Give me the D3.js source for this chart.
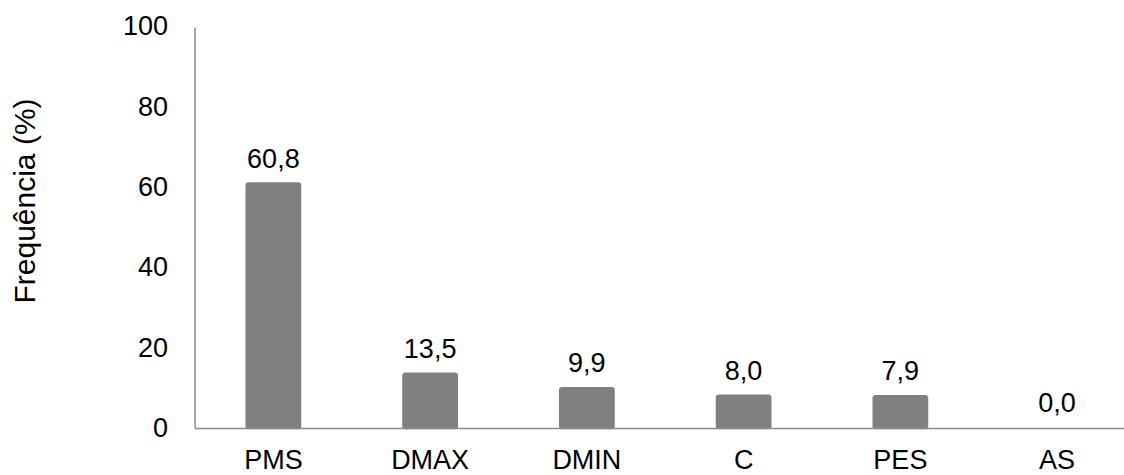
<!DOCTYPE html>
<html>
<head>
<meta charset="utf-8">
<script src="https://cdn.jsdelivr.net/npm/d3@7"></script>
<style>
  html, body { margin: 0; padding: 0; background: #fff; }
  svg { display: block; }
  text { font-family: "Liberation Sans", Arial, sans-serif; fill: #000; }
</style>
</head>
<body>
<svg id="chart" width="1124" height="475"></svg>
<script>
// Frequency of each category (%)
const categories = ["PMS", "DMAX", "DMIN", "C", "PES", "AS"];
const values = [60.8, 13.5, 9.9, 8.0, 7.9, 0.0];
const yTicks = [0, 20, 40, 60, 80, 100];
const yTitle = "Frequência (%)";

const svg = d3.select("#chart");
const plotLeft = 195, plotRight = 1135.5, plotTop = 26, plotBottom = 428;
const fontSize = 27;
const axisColor = "#8a8a8a";
const barColor = "#808080";

const x = d3.scaleBand()
  .domain(categories)
  .range([plotLeft, plotRight])
  .paddingInner(0.66)
  .paddingOuter(0.33);

const y = d3.scaleLinear().domain([0, 100]).range([plotBottom, plotTop]);

const fmt = v => d3.format(".1f")(v).replace(".", ",");

// Bars
svg.append("g")
  .selectAll("rect")
  .data(values)
  .join("rect")
  .attr("x", (d, i) => x(categories[i]))
  .attr("y", d => y(d))
  .attr("width", x.bandwidth())
  .attr("height", d => y(0) - y(d))
  .attr("rx", 2)
  .attr("fill", barColor)
  .attr("stroke", barColor)
  .attr("stroke-width", d => d > 0 ? 2.5 : 0)
  .attr("stroke-linejoin", "round");

// Y axis
const yAxis = d3.axisLeft(y).tickValues(yTicks).tickSize(0).tickPadding(27).tickFormat(d3.format("d"));
const gy = svg.append("g").attr("transform", `translate(${plotLeft},0)`).call(yAxis);
gy.select(".domain").remove();
gy.selectAll("text")
  .attr("font-size", fontSize)
  .attr("font-family", "Liberation Sans, Arial, sans-serif")
  .attr("fill", "#000");

svg.append("line")
  .attr("x1", plotLeft).attr("x2", plotLeft)
  .attr("y1", y(100) + 1.5).attr("y2", y(0))
  .attr("stroke", axisColor).attr("stroke-width", 1.5);

// X axis
const xAxis = d3.axisBottom(x).tickSize(0).tickPadding(22);
const gx = svg.append("g").attr("transform", `translate(0,${y(0)})`).call(xAxis);
gx.select(".domain").remove();
gx.selectAll("text")
  .attr("font-size", fontSize)
  .attr("font-family", "Liberation Sans, Arial, sans-serif")
  .attr("fill", "#000");

svg.append("line")
  .attr("x1", plotLeft).attr("x2", plotRight)
  .attr("y1", y(0) + 0.5).attr("y2", y(0) + 0.5)
  .attr("stroke", axisColor).attr("stroke-width", 1.5);

// Value labels
svg.append("g")
  .selectAll("text")
  .data(values)
  .join("text")
  .attr("x", (d, i) => x(categories[i]) + x.bandwidth() / 2)
  .attr("y", d => y(d) - 16)
  .attr("text-anchor", "middle")
  .attr("font-size", fontSize)
  .text(d => fmt(d));

// Y axis title
svg.append("text")
  .attr("transform", `translate(35,201) rotate(-90)`)
  .attr("text-anchor", "middle")
  .attr("font-size", 30)
  .text(yTitle);
</script>
</body>
</html>
